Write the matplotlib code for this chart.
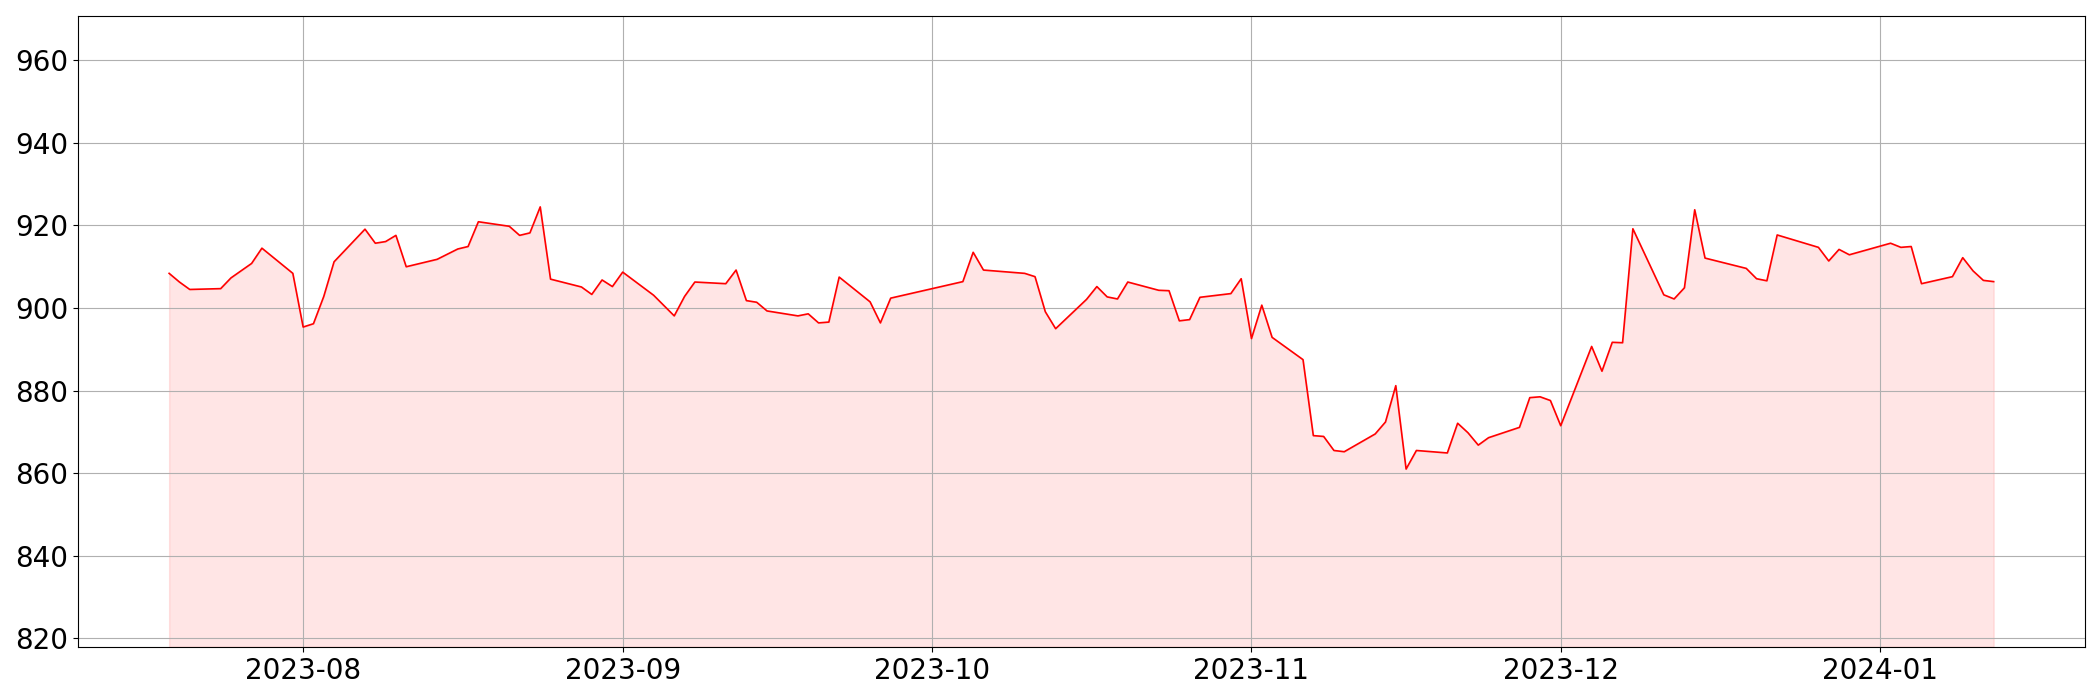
import matplotlib
matplotlib.use("Agg")
import matplotlib.pyplot as plt
import matplotlib.dates as mdates
import pandas as pd

dates = [
    "2023-07-19", "2023-07-20", "2023-07-21", "2023-07-24", "2023-07-25", "2023-07-27",
    "2023-07-28", "2023-07-31", "2023-08-01", "2023-08-02", "2023-08-03", "2023-08-04",
    "2023-08-07", "2023-08-08", "2023-08-09", "2023-08-10", "2023-08-11", "2023-08-14",
    "2023-08-16", "2023-08-17", "2023-08-18", "2023-08-21", "2023-08-22", "2023-08-23",
    "2023-08-24", "2023-08-25", "2023-08-28", "2023-08-29", "2023-08-30", "2023-08-31",
    "2023-09-01", "2023-09-04", "2023-09-06", "2023-09-07", "2023-09-08", "2023-09-11",
    "2023-09-12", "2023-09-13", "2023-09-14", "2023-09-15", "2023-09-18", "2023-09-19",
    "2023-09-20", "2023-09-21", "2023-09-22", "2023-09-25", "2023-09-26", "2023-09-27",
    "2023-10-04", "2023-10-05", "2023-10-06", "2023-10-10", "2023-10-11", "2023-10-12",
    "2023-10-13", "2023-10-16", "2023-10-17", "2023-10-18", "2023-10-19", "2023-10-20",
    "2023-10-23", "2023-10-24", "2023-10-25", "2023-10-26", "2023-10-27", "2023-10-30",
    "2023-10-31", "2023-11-01", "2023-11-02", "2023-11-03", "2023-11-06", "2023-11-07",
    "2023-11-08", "2023-11-09", "2023-11-10", "2023-11-13", "2023-11-14", "2023-11-15",
    "2023-11-16", "2023-11-17", "2023-11-20", "2023-11-21", "2023-11-22", "2023-11-23",
    "2023-11-24", "2023-11-27", "2023-11-28", "2023-11-29", "2023-11-30", "2023-12-01",
    "2023-12-04", "2023-12-05", "2023-12-06", "2023-12-07", "2023-12-08", "2023-12-11",
    "2023-12-12", "2023-12-13", "2023-12-14", "2023-12-15", "2023-12-19", "2023-12-20",
    "2023-12-21", "2023-12-22", "2023-12-26", "2023-12-27", "2023-12-28", "2023-12-29",
    "2024-01-02", "2024-01-03", "2024-01-04", "2024-01-05", "2024-01-08", "2024-01-09",
    "2024-01-10", "2024-01-11", "2024-01-12",
]

values = [
    908.4, 906.3, 904.5, 904.7, 907.3, 910.8,
    914.5, 908.4, 895.4, 896.2, 902.8, 911.2,
    919.1, 915.7, 916.1, 917.6, 910.0, 911.8,
    914.3, 914.9, 920.9, 919.8, 917.6, 918.2,
    924.5, 907.0, 905.1, 903.3, 906.8, 905.2,
    908.7, 903.1, 898.1, 902.8, 906.3, 905.9,
    909.2, 901.8, 901.4, 899.3, 898.1, 898.6,
    896.4, 896.6, 907.5, 901.5, 896.4, 902.4,
    906.4, 913.5, 909.2, 908.4, 907.6, 899.1,
    895.0, 902.1, 905.2, 902.7, 902.2, 906.3,
    904.3, 904.2, 896.9, 897.2, 902.6, 903.5,
    907.1, 892.6, 900.7, 892.9, 887.5, 869.1,
    868.9, 865.5, 865.2, 869.5, 872.4, 881.2,
    861.0, 865.5, 864.9, 872.1, 869.8, 866.8,
    868.6, 871.1, 878.3, 878.5, 877.6, 871.5,
    890.7, 884.7, 891.7, 891.6, 919.2, 903.2,
    902.2, 904.9, 923.8, 912.1, 909.6, 907.1,
    906.6, 917.7, 914.7, 911.4, 914.2, 912.9,
    915.7, 914.7, 914.9, 905.9, 907.6, 912.2,
    909.0, 906.7, 906.4,
]

x = pd.to_datetime(dates)
ymin = min(values) * 0.95
ymax = max(values) * 1.05

fig = plt.figure(figsize=(21, 7), dpi=100)
ax = fig.add_axes([0.0371, 0.0760, 0.9557, 0.9011])
ax.plot(x, values, color="red", linewidth=1.2)
ax.fill_between(x, values, ymin, color="red", alpha=0.1)
ax.set_ylim(ymin, ymax)
ax.grid(True)
ax.xaxis.set_major_locator(mdates.MonthLocator())
ax.xaxis.set_major_formatter(mdates.DateFormatter("%Y-%m"))
ax.tick_params(labelsize=20)
fig.savefig("out.png", dpi=100)
